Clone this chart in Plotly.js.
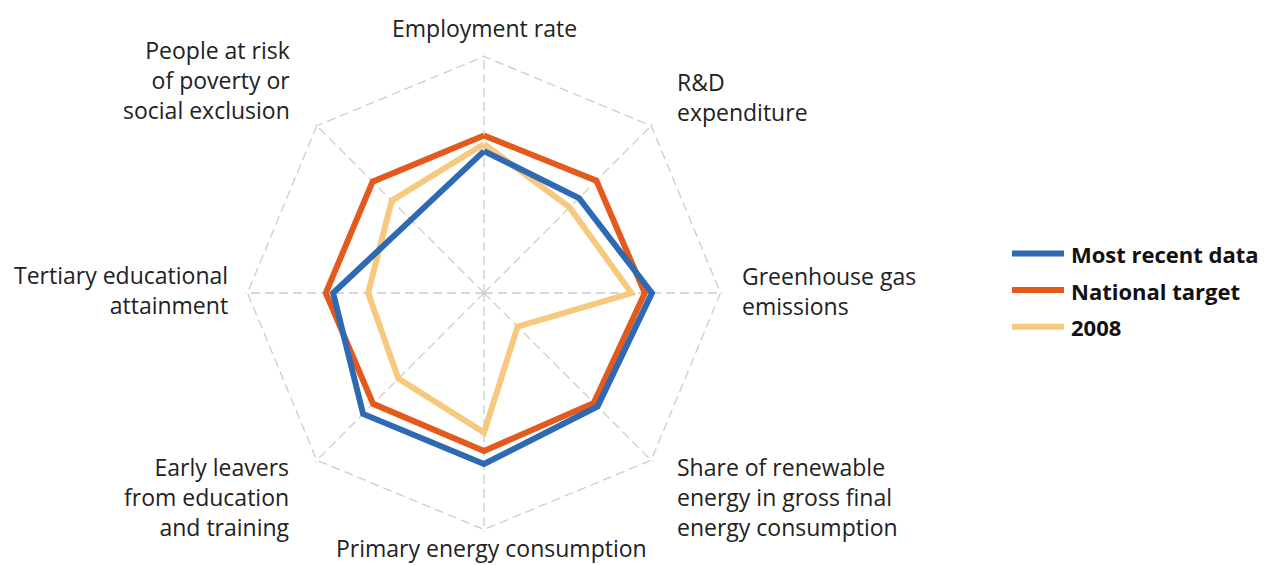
<!DOCTYPE html>
<html>
<head>
<meta charset="utf-8">
<script src="https://cdn.plot.ly/plotly-3.0.1.min.js"></script>
<style>html,body{margin:0;padding:0;background:#fff;}#chart{width:1269px;height:565px;}</style>
</head>
<body>
<div id="chart"></div>
<script>
// ---- data ----
const categories = [
  "Employment rate",
  "R&D<br>expenditure",
  "Greenhouse gas<br>emissions",
  "Share of renewable<br>energy in gross final<br>energy consumption",
  "Primary energy consumption",
  "Early leavers<br>from education<br>and training",
  "Tertiary educational<br>attainment",
  "People at risk<br>of poverty or<br>social exclusion"
];
const mostRecent = [60.0, 56.8, 71.0, 67.9, 72.3, 72.3, 63.8, 43.7];
const nationalTarget = [66.6, 67.2, 68.0, 65.7, 66.8, 66.3, 66.9, 66.6];
const year2008 = [63.0, 51.2, 62.3, 20.1, 59.0, 51.2, 49.0, 55.2];
const seriesNames = ["Most recent data", "National target", "2008"];
const seriesColors = ["#2e69b3", "#e35a1c", "#f6c97f"];

// ---- layout constants ----
const W = 1269, H = 565, cx = 484, cy = 293, R = 236.5;
const FONT = "Open Sans, sans-serif";
// label block placement: anchor x (px), block middle y (px), alignment
const labelPlacement = [
  {x: 484, y: 28, a: "center"},
  {x: 675, y: 97.5, a: "left"},
  {x: 739.5, y: 290.5, a: "left"},
  {x: 675, y: 497, a: "left"},
  {x: 491, y: 548, a: "center"},
  {x: 291.5, y: 497, a: "right"},
  {x: 229.5, y: 289.5, a: "right"},
  {x: 292, y: 79.5, a: "right"}
];
const legendBox = {x0: 1012, x1: 1064, textX: 1069, y0: 253.5, step: 36.6};

function closeLoop(a){ return a.concat([a[0]]); }
const thetaNames = categories.map(c => c.split("<br>").join(" "));
const seriesValues = [mostRecent, nationalTarget, year2008];
const drawOrder = [2, 1, 0];
const traces = drawOrder.map(i => ({
  type: "scatterpolar",
  r: closeLoop(seriesValues[i]),
  theta: closeLoop(thetaNames),
  mode: "lines",
  name: seriesNames[i],
  line: {color: seriesColors[i], width: 6, shape: "linear"},
  showlegend: false,
  hoverinfo: "skip"
}));

const annotations = categories.map((c, i) => {
  const p = labelPlacement[i];
  return {
    xref: "paper", yref: "paper",
    x: p.x / W, y: 1 - p.y / H,
    xanchor: p.a, yanchor: "middle", align: p.a,
    text: c, showarrow: false,
    font: {family: FONT, size: 23, color: "#222"}
  };
});
const shapes = [];
seriesNames.forEach((n, i) => {
  const y = legendBox.y0 + i * legendBox.step;
  shapes.push({
    type: "line", xref: "paper", yref: "paper",
    x0: legendBox.x0 / W, x1: legendBox.x1 / W, y0: 1 - y / H, y1: 1 - y / H,
    line: {color: seriesColors[i], width: 6}
  });
  annotations.push({
    xref: "paper", yref: "paper",
    x: legendBox.textX / W, y: 1 - (y + 0.5) / H,
    xanchor: "left", yanchor: "middle",
    text: "<b>" + n + "</b>", showarrow: false,
    font: {family: FONT, size: 22, color: "#111"}
  });
});

const rMax = 101;
const Rd = R * rMax / 100;
const layout = {
  width: W, height: H,
  margin: {l: 0, r: 0, t: 0, b: 0},
  paper_bgcolor: "#fff",
  font: {family: FONT, size: 22, color: "#222"},
  showlegend: false,
  annotations: annotations,
  shapes: shapes,
  polar: {
    domain: {x: [(cx - Rd) / W, (cx + Rd) / W], y: [(H - cy - Rd) / H, (H - cy + Rd) / H]},
    gridshape: "linear",
    bgcolor: "rgba(0,0,0,0)",
    radialaxis: {
      range: [0, rMax], tickvals: [100], showticklabels: false, ticks: "",
      showline: false, gridcolor: "#cccccc", griddash: "9px,5px", gridwidth: 1.3
    },
    angularaxis: {
      direction: "clockwise", rotation: 90,
      showline: false, showticklabels: false, ticks: "",
      gridcolor: "#cccccc", griddash: "9px,5px", gridwidth: 1.3
    }
  }
};
Plotly.newPlot("chart", traces, layout, {displayModeBar: false, staticPlot: true});
</script>
</body>
</html>
